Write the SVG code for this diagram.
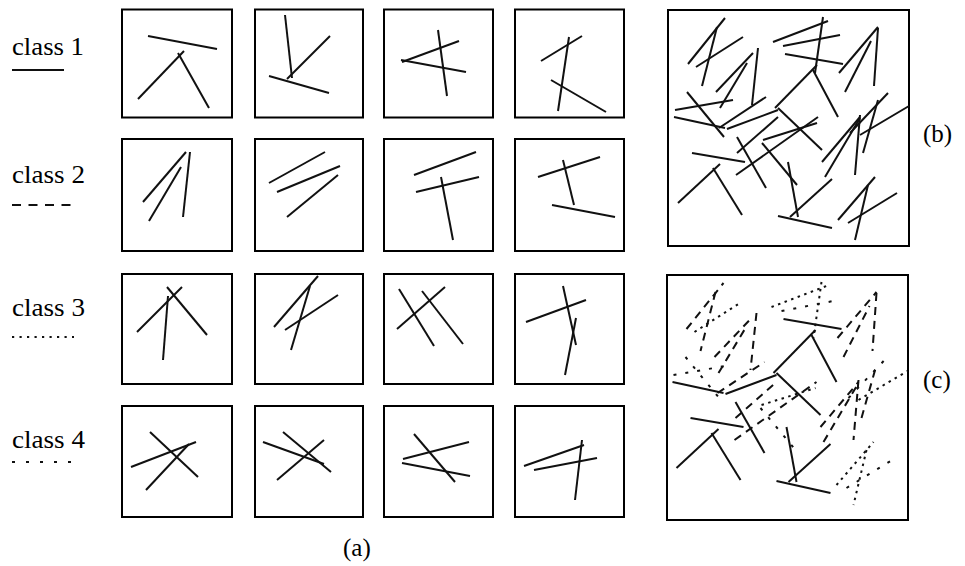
<svg xmlns="http://www.w3.org/2000/svg" width="965" height="566" viewBox="0 0 965 566">
<style>
.fr{fill:none;stroke:#000;stroke-width:2}
.l{stroke:#111;stroke-width:2;fill:none}
.c2{stroke-dasharray:8 6}
.c3{stroke-dasharray:2.5 4.5}
.c4{stroke-dasharray:3 9}
text{font-family:'Liberation Serif',Tinos,'Times New Roman','DejaVu Serif','Noto Serif',serif;font-size:25px;fill:#000}
</style>
<rect width="965" height="566" fill="#fff"/>
<g id="legend">
<text x="12" y="55" textLength="72" lengthAdjust="spacingAndGlyphs">class 1</text>
<line class="l" x1="12" y1="70" x2="64" y2="70"/>
<text x="12" y="183" textLength="73" lengthAdjust="spacingAndGlyphs">class 2</text>
<line class="l" x1="12" y1="205" x2="71" y2="205" style="stroke-dasharray:9 7.5"/>
<text x="12" y="316" textLength="73" lengthAdjust="spacingAndGlyphs">class 3</text>
<line class="l" x1="12" y1="337" x2="74" y2="337" style="stroke-dasharray:2.2 5.3"/>
<text x="12" y="448" textLength="73" lengthAdjust="spacingAndGlyphs">class 4</text>
<line class="l" x1="12" y1="462" x2="72" y2="462" style="stroke-dasharray:3 11"/>
</g>
<g id="frames">
<rect class="fr" x="122" y="9.5" width="110" height="108"/>
<rect class="fr" x="255" y="9.5" width="108" height="108"/>
<rect class="fr" x="384" y="9.5" width="109" height="108"/>
<rect class="fr" x="515" y="9.5" width="109" height="108"/>
<rect class="fr" x="122" y="139" width="110" height="112"/>
<rect class="fr" x="255" y="139" width="108" height="112"/>
<rect class="fr" x="384" y="139" width="109" height="112"/>
<rect class="fr" x="515" y="139" width="109" height="112"/>
<rect class="fr" x="122" y="274" width="110" height="110"/>
<rect class="fr" x="255" y="274" width="108" height="110"/>
<rect class="fr" x="384" y="274" width="109" height="110"/>
<rect class="fr" x="515" y="274" width="109" height="110"/>
<rect class="fr" x="122" y="406" width="110" height="111"/>
<rect class="fr" x="255" y="406" width="108" height="111"/>
<rect class="fr" x="384" y="406" width="109" height="111"/>
<rect class="fr" x="515" y="406" width="109" height="111"/>
<rect class="fr" x="668" y="10" width="241" height="236"/>
<rect class="fr" x="667" y="275" width="241" height="245"/>
</g>
<g id="examples">
<line class="l" x1="148" y1="36" x2="217" y2="49"/>
<line class="l" x1="138" y1="99" x2="184" y2="51"/>
<line class="l" x1="178" y1="53" x2="209" y2="108"/>
<line class="l" x1="285" y1="15" x2="292" y2="78"/>
<line class="l" x1="330" y1="36" x2="287" y2="79"/>
<line class="l" x1="269" y1="76" x2="329" y2="93"/>
<line class="l" x1="438" y1="30" x2="447" y2="96"/>
<line class="l" x1="402" y1="62" x2="459" y2="41"/>
<line class="l" x1="401" y1="60" x2="466" y2="72"/>
<line class="l" x1="541" y1="61" x2="582" y2="36"/>
<line class="l" x1="569" y1="37" x2="558" y2="111"/>
<line class="l" x1="551" y1="80" x2="606" y2="112"/>

<line class="l" x1="143" y1="202" x2="186" y2="152"/>
<line class="l" x1="149" y1="221" x2="181" y2="167"/>
<line class="l" x1="190" y1="152" x2="183" y2="217"/>
<line class="l" x1="269" y1="183" x2="325" y2="152"/>
<line class="l" x1="277" y1="192" x2="340" y2="166"/>
<line class="l" x1="287" y1="217" x2="338" y2="175"/>
<line class="l" x1="414" y1="175" x2="476" y2="152"/>
<line class="l" x1="416" y1="192" x2="479" y2="177"/>
<line class="l" x1="441" y1="177" x2="453" y2="240"/>
<line class="l" x1="538" y1="177" x2="600" y2="157"/>
<line class="l" x1="563" y1="160" x2="574" y2="205"/>
<line class="l" x1="552" y1="205" x2="615" y2="217"/>

<line class="l" x1="137" y1="332" x2="182" y2="287"/>
<line class="l" x1="167" y1="287" x2="207" y2="335"/>
<line class="l" x1="168" y1="296" x2="163" y2="360"/>
<line class="l" x1="318" y1="276" x2="274" y2="327"/>
<line class="l" x1="310" y1="286" x2="291" y2="350"/>
<line class="l" x1="285" y1="330" x2="338" y2="295"/>
<line class="l" x1="399" y1="289" x2="434" y2="346"/>
<line class="l" x1="422" y1="291" x2="463" y2="344"/>
<line class="l" x1="397" y1="329" x2="445" y2="287"/>
<line class="l" x1="526" y1="322" x2="586" y2="300"/>
<line class="l" x1="563" y1="286" x2="576" y2="345"/>
<line class="l" x1="576" y1="318" x2="565" y2="375"/>

<line class="l" x1="150" y1="432" x2="198" y2="477"/>
<line class="l" x1="131" y1="467" x2="196" y2="442"/>
<line class="l" x1="146" y1="490" x2="189" y2="444"/>
<line class="l" x1="283" y1="432" x2="331" y2="472"/>
<line class="l" x1="263" y1="442" x2="324" y2="464"/>
<line class="l" x1="277" y1="480" x2="324" y2="440"/>
<line class="l" x1="414" y1="434" x2="455" y2="482"/>
<line class="l" x1="403" y1="459" x2="469" y2="442"/>
<line class="l" x1="402" y1="463" x2="470" y2="476"/>
<line class="l" x1="524" y1="466" x2="584" y2="445"/>
<line class="l" x1="534" y1="470" x2="597" y2="458"/>
<line class="l" x1="582" y1="440" x2="575" y2="500"/>
</g>
<defs>
<g id="scene">
<line id="s1" x1="688" y1="64" x2="725" y2="18"/>
<line id="s2" x1="696" y1="67" x2="743" y2="37"/>
<line id="s3" x1="717" y1="27" x2="702" y2="86"/>
<line id="s4" x1="716" y1="92" x2="753" y2="53"/>
<line id="s5" x1="720" y1="108" x2="747" y2="63"/>
<line id="s6" x1="758" y1="48" x2="752" y2="105"/>
<line id="s7" x1="675" y1="110" x2="733" y2="100"/>
<line id="s8" x1="687" y1="92" x2="724" y2="137"/>
<line id="s9" x1="674" y1="117" x2="725" y2="128"/>
<line id="s10" x1="719" y1="128" x2="766" y2="97"/>
<line id="s11" x1="727" y1="129" x2="778" y2="110"/>
<line id="s12" x1="773" y1="42" x2="828" y2="21"/>
<line id="s13" x1="783" y1="46" x2="840" y2="35"/>
<line id="s14" x1="823" y1="17" x2="815" y2="73"/>
<line id="s15" x1="785" y1="54" x2="843" y2="64"/>
<line id="s16" x1="775" y1="108" x2="817" y2="65"/>
<line id="s17" x1="813" y1="70" x2="838" y2="117"/>
<line id="s18" x1="839" y1="73" x2="878" y2="27"/>
<line id="s19" x1="845" y1="92" x2="871" y2="41"/>
<line id="s20" x1="878" y1="28" x2="874" y2="86"/>
<line id="s21" x1="778" y1="108" x2="822" y2="150"/>
<line id="s22" x1="737" y1="153" x2="778" y2="117"/>
<line id="s23" x1="737" y1="137" x2="766" y2="188"/>
<line id="s24" x1="736" y1="175" x2="818" y2="117"/>
<line id="s25" x1="763" y1="140" x2="817" y2="123"/>
<line id="s26" x1="692" y1="153" x2="745" y2="162"/>
<line id="s27" x1="678" y1="203" x2="720" y2="164"/>
<line id="s28" x1="713" y1="168" x2="742" y2="215"/>
<line id="s29" x1="762" y1="143" x2="797" y2="185"/>
<line id="s30" x1="788" y1="162" x2="798" y2="217"/>
<line id="s31" x1="778" y1="216" x2="832" y2="228"/>
<line id="s32" x1="790" y1="217" x2="832" y2="179"/>
<line id="s33" x1="822" y1="162" x2="860" y2="117"/>
<line id="s34" x1="825" y1="177" x2="860" y2="118"/>
<line id="s35" x1="860" y1="115" x2="855" y2="175"/>
<line id="s36" x1="863" y1="153" x2="878" y2="100"/>
<line id="s37" x1="850" y1="133" x2="888" y2="93"/>
<line id="s38" x1="860" y1="135" x2="909" y2="106"/>
<line id="s39" x1="838" y1="220" x2="875" y2="177"/>
<line id="s40" x1="848" y1="223" x2="897" y2="193"/>
<line id="s41" x1="868" y1="185" x2="855" y2="240"/>
</g>
</defs>
<g id="panel-b" class="l">
<use href="#scene"/>
</g>
<g id="panel-c" class="l" transform="translate(-1.5,265)">
<use href="#s9"/><use href="#s11"/><use href="#s15"/><use href="#s16"/><use href="#s17"/><use href="#s21"/><use href="#s23"/><use href="#s26"/><use href="#s27"/><use href="#s28"/><use href="#s30"/><use href="#s31"/><use href="#s32"/>
<g class="c2"><use href="#s1"/><use href="#s3"/><use href="#s4"/><use href="#s5"/><use href="#s6"/><use href="#s10"/><use href="#s18"/><use href="#s19"/><use href="#s20"/><use href="#s22"/><use href="#s24"/><use href="#s33"/><use href="#s34"/><use href="#s35"/><use href="#s36"/></g>
<g class="c3"><use href="#s2"/><use href="#s12"/><use href="#s14"/><use href="#s25"/><use href="#s38"/><use href="#s39"/><use href="#s41"/></g>
<g class="c4"><use href="#s7"/><use href="#s8"/><use href="#s13"/><use href="#s29"/><use href="#s37"/><use href="#s40"/></g>
</g>
<g id="captions">
<text x="343" y="556">(a)</text>
<text x="923" y="142">(b)</text>
<text x="923" y="388">(c)</text>
</g>
</svg>
